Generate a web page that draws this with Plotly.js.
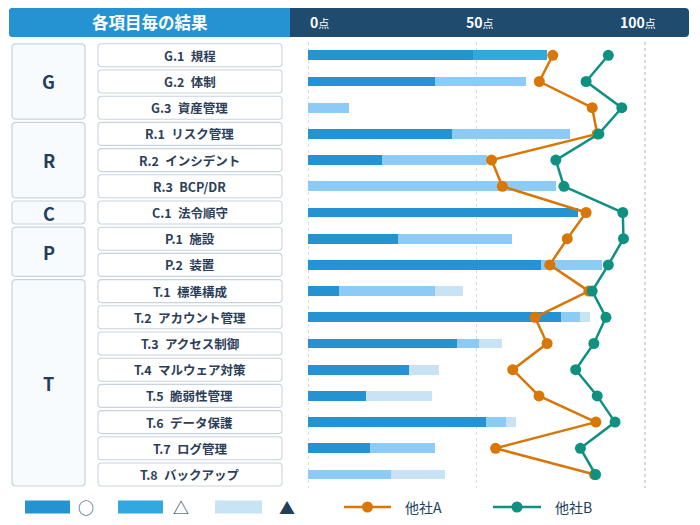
<!DOCTYPE html>
<html>
<head>
<meta charset="utf-8">
<script src="https://cdn.plot.ly/plotly-3.0.1.min.js"></script>
<style>
  html, body { margin: 0; padding: 0; background: #ffffff; }
  #chart { width: 700px; height: 525px; }
</style>
</head>
<body>
<div id="chart"></div>
<script>
// ---- data -------------------------------------------------------------
const items = [
  'G.1 規程', 'G.2 体制', 'G.3 資産管理',
  'R.1 リスク管理', 'R.2 インシデント', 'R.3 BCP/DR',
  'C.1 法令順守',
  'P.1 施設', 'P.2 装置',
  'T.1 標準構成', 'T.2 アカウント管理', 'T.3 アクセス制御', 'T.4 マルウェア対策',
  'T.5 脆弱性管理', 'T.6 データ保護', 'T.7 ログ管理', 'T.8 バックアップ'
];
const groups = ['G', 'R', 'C', 'P', 'T'];
const groupSizes = [3, 3, 1, 2, 8];

// stacked segments (points)
const scoreCircle   = [49, 37.5, 0, 42.7, 21.7, 0, 80, 26.7, 69, 9.2, 75, 44, 29.8, 17.1, 52.7, 18.2, 0];
const scoreTriangle = [22, 27, 12, 35, 31.4, 73.5, 0, 33.7, 18.3, 28.3, 5.7, 6.8, 0, 0, 6, 19.3, 24.4];
const scoreFilled   = [0, 0, 0, 0, 0, 0, 0, 0, 0, 8.3, 3, 6.6, 8.9, 19.6, 3.1, 0, 16.2];

const companyA = [72.6, 68.6, 84.3, 85.8, 54.4, 57.6, 82.5, 76.9, 71.7, 83.3, 67.3, 70.9, 60.7, 68.5, 85.4, 55.6, 85];
const companyB = [89.1, 82.5, 93.1, 86.3, 73.5, 75.9, 93.4, 93.6, 89.1, 84.3, 88.4, 84.8, 79.4, 85.8, 91.1, 80.8, 85.3];

const axisTicks = [0, 50, 100];
const headerTitle = '各項目毎の結果';
const legendSymbols = ['○', '△', '▲'];
const companyNames = ['他社A', '他社B'];

// ---- page geometry (pixels) ------------------------------------------
const W = 700, H = 525;
const ROW_TOP = 42.2, ROW_H = 26.2;
const X0 = 308.5, X100 = 645;
const PAD = 0.5;                       // small range padding so edge gridlines draw
const SCALE = (X100 - X0) / 100;
const FONT = '"Noto Sans CJK JP", "Noto Sans", sans-serif';
const NAVY = '#213f5c';
const C_DARK = '#2592d2', C_MID = '#33a8e0', C_SKY = '#8ccbf5', C_PALE = '#c8e3f3';
const C_A = '#d97706', C_B = '#0e9181';

const px = x => x / W;
const py = y => 1 - y / H;
const rowY = i => ROW_TOP + (i + 0.5) * ROW_H;

function rrect(x0, y0, x1, y1, r, fill, line, lw) {
  const rx = r / W, ry = r / H;
  const a = px(x0), b = px(x1), t = py(y0), u = py(y1);
  const path = `M${a + rx},${t} L${b - rx},${t} Q${b},${t} ${b},${t - ry} ` +
    `L${b},${u + ry} Q${b},${u} ${b - rx},${u} L${a + rx},${u} Q${a},${u} ${a},${u + ry} ` +
    `L${a},${t - ry} Q${a},${t} ${a + rx},${t} Z`;
  return { type: 'path', xref: 'paper', yref: 'paper', path,
           fillcolor: fill, line: { color: line || fill, width: lw === undefined ? 1 : lw }, layer: 'below' };
}

function label(x, y, text, font, xanchor) {
  return { xref: 'paper', yref: 'paper', x: px(x), y: py(y), text, showarrow: false,
           xanchor: xanchor || 'center', yanchor: 'middle', font };
}

const shapes = [];
const annotations = [];

// header bar
shapes.push(rrect(9, 8, 689, 37, 4, '#1f4b6e', '#1f4b6e', 0));
shapes.push({ type: 'rect', xref: 'paper', yref: 'paper', x0: px(12), x1: px(290), y0: py(8), y1: py(37),
              fillcolor: C_DARK, line: { width: 0 }, layer: 'below' });
shapes.push(rrect(9, 8, 20, 37, 4, C_DARK, C_DARK, 0));
annotations.push(label(150, 22.5, '<b>' + headerTitle + '</b>', { family: FONT, size: 16.5, color: '#ffffff' }));
const tickPx = [319, 480, 638];
axisTicks.forEach((t, k) => {
  annotations.push(label(tickPx[k], 22.5, '<b>' + t + '</b><span style="font-size:11px">点</span>',
                         { family: FONT, size: 14, color: '#ffffff' }));
});

// group boxes
let start = 0;
groups.forEach((g, k) => {
  const n = groupSizes[k];
  const top = ROW_TOP + start * ROW_H + 1.6;
  const bot = ROW_TOP + (start + n) * ROW_H - 1.6;
  shapes.push(rrect(12, top, 85, bot, 4, '#f7fbfe', '#c5d3df', 1.2));
  annotations.push(label(48.5, (top + bot) / 2, '<b>' + g + '</b>', { family: FONT, size: 18, color: NAVY }));
  start += n;
});

// item label boxes (code and name separated by a slightly wider gap)
items.forEach((name, i) => {
  const c = rowY(i);
  shapes.push(rrect(98, c - 11.5, 282, c + 11.5, 3.5, '#ffffff', '#c8d3de', 1.1));
  annotations.push(label(190, c, name.replace(' ', '\u2002'),
                         { family: FONT, size: 12.5, color: '#2b4058', weight: 600 }));
});

// legend
const legY = 507;
const swatches = [[25, 70, C_DARK, 86], [118, 163, C_MID, 181], [215, 262, C_PALE, 287]];
swatches.forEach((s, k) => {
  shapes.push({ type: 'rect', xref: 'paper', yref: 'paper', x0: px(s[0]), x1: px(s[1]),
                y0: py(legY - 6.5), y1: py(legY + 6.5), fillcolor: s[2], line: { width: 0 } });
  annotations.push(label(s[3], legY, legendSymbols[k], { family: FONT, size: 16, color: NAVY }));
});
const lineLeg = [[344, 391, C_A, 403], [493, 541, C_B, 553]];
lineLeg.forEach((l, k) => {
  shapes.push({ type: 'line', xref: 'paper', yref: 'paper', x0: px(l[0]), x1: px(l[1]),
                y0: py(legY), y1: py(legY), line: { color: l[2], width: 2.5 } });
  const m = (l[0] + l[1]) / 2;
  shapes.push({ type: 'circle', xref: 'paper', yref: 'paper', x0: px(m - 5.5), x1: px(m + 5.5),
                y0: py(legY - 5.5), y1: py(legY + 5.5), fillcolor: l[2], line: { width: 0 } });
  annotations.push(label(l[3], legY, companyNames[k], { family: FONT, size: 14, color: NAVY }, 'left'));
});

// ---- traces ------------------------------------------------------------
const triangleColors = items.map((_, i) => (i === 0 ? C_MID : C_SKY));
const barCommon = { type: 'bar', orientation: 'h', y: items, width: 0.38, hoverinfo: 'x+y' };
const traces = [
  Object.assign({}, barCommon, { name: '○', x: scoreCircle, marker: { color: C_DARK, line: { width: 0 } } }),
  Object.assign({}, barCommon, { name: '△', x: scoreTriangle, marker: { color: triangleColors, line: { width: 0 } } }),
  Object.assign({}, barCommon, { name: '▲', x: scoreFilled, marker: { color: C_PALE, line: { width: 0 } } }),
  { type: 'scatter', mode: 'lines+markers', name: companyNames[0], x: companyA, y: items, cliponaxis: false,
    line: { color: C_A, width: 2.5 }, marker: { color: C_A, size: 11 } },
  { type: 'scatter', mode: 'lines+markers', name: companyNames[1], x: companyB, y: items, cliponaxis: false,
    line: { color: C_B, width: 2.5 }, marker: { color: C_B, size: 11 } }
];

const layout = {
  width: W, height: H,
  margin: { l: 0, r: 0, t: 0, b: 0 },
  paper_bgcolor: '#ffffff', plot_bgcolor: 'rgba(0,0,0,0)',
  barmode: 'stack', bargap: 0,
  showlegend: false,
  xaxis: {
    domain: [px(X0 - PAD * SCALE), px(X100 + PAD * SCALE)], range: [-PAD, 100 + PAD], tickvals: axisTicks,
    showticklabels: false, showgrid: true, gridcolor: '#cfdbe7', griddash: 'dot', gridwidth: 1.2,
    zeroline: false, showline: false, fixedrange: true
  },
  yaxis: {
    domain: [py(ROW_TOP + items.length * ROW_H), py(ROW_TOP)],
    type: 'category', categoryarray: items, range: [items.length - 0.5, -0.5],
    showticklabels: false, showgrid: false, zeroline: false, showline: false, fixedrange: true
  },
  shapes, annotations,
  font: { family: FONT }
};

Plotly.newPlot('chart', traces, layout, { displayModeBar: false, staticPlot: true });
</script>
</body>
</html>
